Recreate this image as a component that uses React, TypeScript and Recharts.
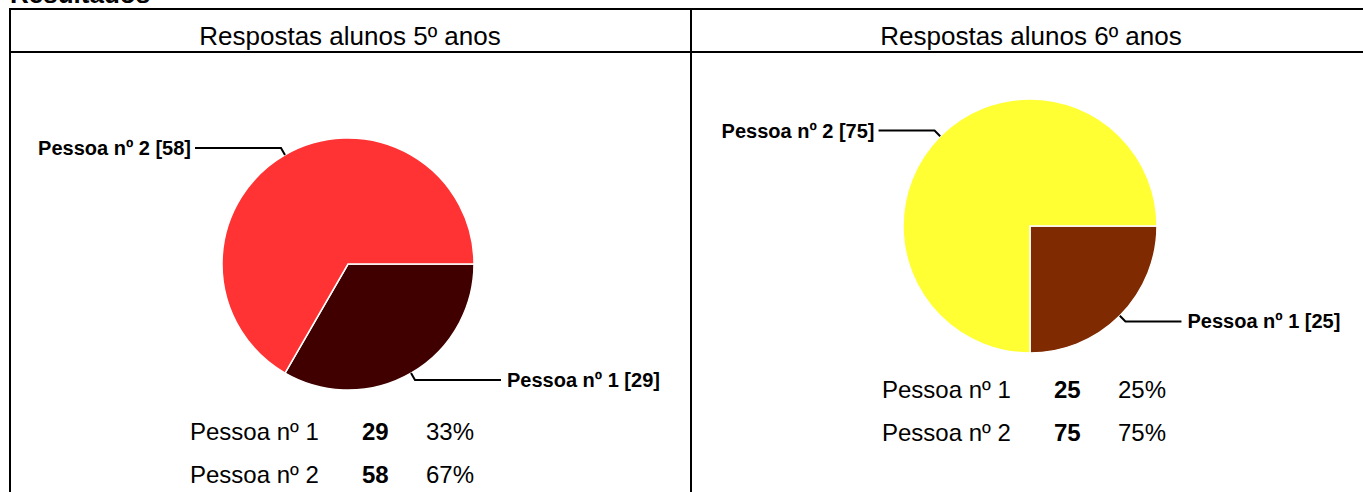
import React from "react";
import { PieChart, Pie, Cell } from "recharts";

const W = 1363;
const H = 492;

// two groups of students
const groupTitles = ["Respostas alunos 5º anos", "Respostas alunos 6º anos"];
const people = ["Pessoa nº 1", "Pessoa nº 2"];
const answers5 = [29, 58];
const answers6 = [25, 75];

const colors5 = ["#400000", "#ff3333"];
const colors6 = ["#7f2a00", "#ffff33"];

const RADIAN = Math.PI / 180;
const FONT = "'Liberation Sans', Arial, sans-serif";

const toData = (values: number[]) =>
  people.map((name, i) => ({ name, value: values[i] }));

const data5 = toData(answers5);
const data6 = toData(answers6);

// label with a short radial kink, then a horizontal leader
const makeLabel = (leader: number) => (props: any) => {
  const { cx, cy, midAngle, outerRadius, name, value } = props;
  const cos = Math.cos(-midAngle * RADIAN);
  const sin = Math.sin(-midAngle * RADIAN);
  const x0 = cx + outerRadius * cos;
  const y0 = cy + outerRadius * sin;
  const x1 = cx + (outerRadius + 8) * cos;
  const y1 = cy + (outerRadius + 8) * sin;
  const right = cos >= 0;
  const x2 = x1 + (right ? leader : -leader);
  const tx = x2 + (right ? 6 : -4);
  return (
    <g>
      <path
        d={`M${x0},${y0}L${x1},${y1}L${x2},${y1}`}
        stroke="#000"
        strokeWidth={2}
        fill="none"
      />
      <text
        x={tx}
        y={y1}
        textAnchor={right ? "start" : "end"}
        dominantBaseline="central"
        fontFamily={FONT}
        fontWeight="bold"
        fontSize={20}
        fill="#000"
      >
        {`${name} [${value}]`}
      </text>
    </g>
  );
};

function Rows({ values, x, y }: { values: number[]; x: number; y: number }) {
  const total = values.reduce((a, b) => a + b, 0);
  return (
    <g fontFamily={FONT} fontSize={24} fill="#000">
      {people.map((p, i) => (
        <g key={p}>
          <text x={x} y={y + i * 43}>{p}</text>
          <text x={x + 172} y={y + i * 43} fontWeight="bold">
            {values[i]}
          </text>
          <text x={x + 236} y={y + i * 43}>
            {Math.round((values[i] / total) * 100)}%
          </text>
        </g>
      ))}
    </g>
  );
}

export default function App() {
  return (
    <div
      style={{
        position: "absolute",
        left: 0,
        top: 0,
        width: W,
        height: H,
        overflow: "hidden",
        background: "#fff",
      }}
    >
      <svg width={W} height={H} style={{ position: "absolute", left: 0, top: 0 }}>
        <text x={10} y={3} fontFamily={FONT} fontWeight="bold" fontSize={26}>
          Resultados
        </text>
        {/* table frame */}
        <rect x={9} y={8} width={W} height={2} fill="#000" />
        <rect x={9} y={51} width={W} height={2} fill="#000" />
        <rect x={9} y={8} width={2} height={H} fill="#000" />
        <rect x={690} y={8} width={2} height={H} fill="#000" />
        <text x={350} y={45} textAnchor="middle" fontFamily={FONT} fontSize={26}>
          {groupTitles[0]}
        </text>
        <text x={1031} y={45} textAnchor="middle" fontFamily={FONT} fontSize={26}>
          {groupTitles[1]}
        </text>
        <Rows values={answers5} x={190} y={440} />
        <Rows values={answers6} x={882} y={398} />
      </svg>
      <div style={{ position: "absolute", left: 0, top: 0 }}>
        <PieChart width={W} height={H} margin={{ top: 0, right: 0, bottom: 0, left: 0 }}>
          <Pie
            data={data5}
            dataKey="value"
            nameKey="name"
            cx={348}
            cy={264}
            outerRadius={126}
            startAngle={0}
            endAngle={-360}
            stroke="#fff"
            strokeWidth={1.5}
            label={makeLabel(86)}
            labelLine={false}
            isAnimationActive={false}
          >
            {data5.map((d, i) => (
              <Cell key={d.name} fill={colors5[i]} />
            ))}
          </Pie>
          <Pie
            data={data6}
            dataKey="value"
            nameKey="name"
            cx={1030}
            cy={226}
            outerRadius={127}
            startAngle={0}
            endAngle={-360}
            stroke="#fff"
            strokeWidth={1.5}
            label={makeLabel(56)}
            labelLine={false}
            isAnimationActive={false}
          >
            {data6.map((d, i) => (
              <Cell key={d.name} fill={colors6[i]} />
            ))}
          </Pie>
        </PieChart>
      </div>
    </div>
  );
}
